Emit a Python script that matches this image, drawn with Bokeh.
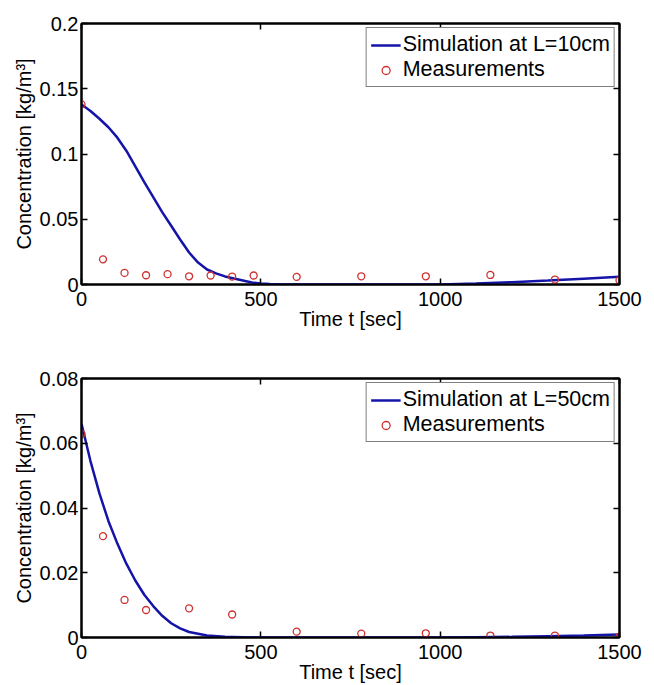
from bokeh.plotting import figure
from bokeh.models import (Range1d, FixedTicker, LinearAxis, NumeralTickFormatter,
                          CustomLabelingPolicy)
from bokeh.layouts import column
from bokeh.embed import file_html
from bokeh.resources import INLINE

# ---------------- data ----------------
x_ticks = [0, 500, 1000, 1500]
x_tick_labels = ["0", "500", "1000", "1500"]

top_y_ticks = [0, 0.05, 0.1, 0.15, 0.2]
top_y_tick_labels = ["0", "0.05", "0.1", "0.15", "0.2"]
bot_y_ticks = [0, 0.02, 0.04, 0.06, 0.08]
bot_y_tick_labels = ["0", "0.02", "0.04", "0.06", "0.08"]

# top panel (L = 10 cm)
top_sim_t = [0, 25, 50, 75, 100, 125, 150, 175, 200, 225, 250, 275, 300, 325, 350,
             375, 400, 425, 450, 475, 500, 525, 550, 600, 700, 800, 900, 1000, 1100,
             1200, 1300, 1400, 1500]
top_sim_c = [0.138, 0.133, 0.127, 0.1205, 0.1125, 0.1025, 0.0905, 0.0785, 0.067, 0.0555,
             0.045, 0.0345, 0.0245, 0.0168, 0.0115, 0.0085, 0.0062, 0.0046, 0.0031,
             0.0016, 0.0008, 0.0003, 0.0001, 0.0, 0.0, 0.0, 0.0, 0.0, 0.0008, 0.0018,
             0.003, 0.0045, 0.006]
top_meas_t = [0, 60, 120, 180, 240, 300, 360, 420, 480, 600, 780, 960, 1140, 1320, 1500]
top_meas_c = [0.138, 0.0193, 0.0089, 0.0071, 0.0079, 0.0063, 0.0069, 0.0061, 0.0069,
              0.0058, 0.0063, 0.0063, 0.0073, 0.0038, 0.0033]

# bottom panel (L = 50 cm)
bot_sim_t = [0, 25, 50, 75, 100, 125, 150, 175, 200, 225, 250, 275, 300, 350, 400,
             450, 500, 1000, 1100, 1200, 1300, 1400, 1500]
bot_sim_c = [0.066, 0.0545, 0.0445, 0.036, 0.029, 0.0228, 0.0176, 0.0132, 0.0097,
             0.0067, 0.0044, 0.0028, 0.0017, 0.0006, 0.0002, 0.0001, 0.0, 0.0, 0.0001,
             0.0002, 0.0004, 0.0006, 0.0009]
bot_meas_t = [0, 60, 120, 180, 300, 420, 600, 780, 960, 1140, 1320, 1500]
bot_meas_c = [0.0629, 0.0313, 0.0116, 0.0085, 0.009, 0.0071, 0.0018, 0.0012, 0.0013,
              0.0006, 0.0006, 0.0003]

FONT = "Liberation Sans"
LINE_COLOR = "#1414A8"
MARK_COLOR = "#D03030"

NO_LABELS_CODE = """
try {
  const r = indices.clone();
  for (const i of indices) { r.unset(i); }
  return r;
} catch (e) {
  return indices;
}
"""


def make_panel(width, height, borders, ymax, yticks, ylabels, sim_t, sim_c,
               meas_t, meas_c, sim_label):
    left, right, top, bottom = borders
    p = figure(width=width, height=height, x_range=Range1d(0, 1500),
               y_range=Range1d(0, ymax), output_backend="svg",
               toolbar_location=None, min_border_left=left,
               min_border_right=right, min_border_top=top,
               min_border_bottom=bottom, background_fill_color="white",
               border_fill_color="white")
    p.xgrid.visible = False
    p.ygrid.visible = False
    p.outline_line_color = "black"
    p.outline_line_width = 2
    p.outline_line_alpha = 1.0

    p.line(sim_t, sim_c, line_color=LINE_COLOR, line_width=2.5, legend_label=sim_label)
    p.scatter(meas_t, meas_c, marker="circle", size=7, fill_color=None,
              line_color=MARK_COLOR, line_width=1.3, legend_label="Measurements")

    xover = {}
    for v, s in zip(x_ticks, x_tick_labels):
        xover[v] = s
    yover = {}
    for v, s in zip(yticks, ylabels):
        yover[v] = s

    xa = p.xaxis[0]
    xa.ticker = FixedTicker(ticks=x_ticks, minor_ticks=[])
    xa.major_label_overrides = xover
    xa.axis_label = "Time t [sec]"
    xa.major_label_standoff = 7
    xa.axis_label_standoff = -1
    ya = p.yaxis[0]
    ya.ticker = FixedTicker(ticks=yticks, minor_ticks=[])
    ya.formatter = NumeralTickFormatter(format="0.[00]")
    ya.major_label_overrides = yover
    ya.axis_label = "Concentration [kg/m³]"
    ya.major_label_standoff = 3
    ya.axis_label_standoff = 2

    for ax in (xa, ya):
        ax.major_tick_in = 6
        ax.major_tick_out = 0
        ax.minor_tick_in = 0
        ax.minor_tick_out = 0
        ax.axis_line_width = 2
        ax.axis_line_color = "black"
        ax.major_tick_line_width = 1.5
        ax.major_tick_line_color = "black"
        ax.major_label_text_font = FONT
        ax.major_label_text_font_size = "20px"
        ax.major_label_text_color = "black"
        ax.axis_label_text_font = FONT
        ax.axis_label_text_font_size = "20px"
        ax.axis_label_text_font_style = "normal"
        ax.axis_label_text_color = "black"

    for loc, ticks in (("above", x_ticks), ("right", yticks)):
        extra = LinearAxis(ticker=FixedTicker(ticks=ticks, minor_ticks=[]),
                           major_label_policy=CustomLabelingPolicy(code=NO_LABELS_CODE),
                           major_label_text_font_size="0px", major_tick_in=6,
                           major_tick_out=0, minor_tick_in=0, minor_tick_out=0,
                           axis_line_width=2, major_tick_line_width=1.5,
                           major_label_standoff=0)
        p.add_layout(extra, loc)

    lg = p.legend[0]
    lg.location = "top_right"
    lg.margin = 4
    lg.padding = 4
    lg.spacing = 0
    lg.border_line_color = "black"
    lg.border_line_width = 1.5
    lg.background_fill_color = "white"
    lg.background_fill_alpha = 1.0
    lg.label_text_font = FONT
    lg.label_text_font_size = "21.5px"
    lg.label_text_color = "black"
    lg.label_standoff = 2
    lg.glyph_width = 30
    lg.glyph_height = 20
    lg.label_height = 20
    return p


p1 = make_panel(646, 340, (78, 27, 23, 56), 0.2, top_y_ticks, top_y_tick_labels,
                top_sim_t, top_sim_c, top_meas_t, top_meas_c, "Simulation at L=10cm")
p2 = make_panel(646, 345, (81, 24, 38, 46), 0.08, bot_y_ticks, bot_y_tick_labels,
                bot_sim_t, bot_sim_c, bot_meas_t, bot_meas_c, "Simulation at L=50cm")

layout = column(p1, p2, spacing=0)
open("out.html", "w").write(file_html(layout, INLINE))
